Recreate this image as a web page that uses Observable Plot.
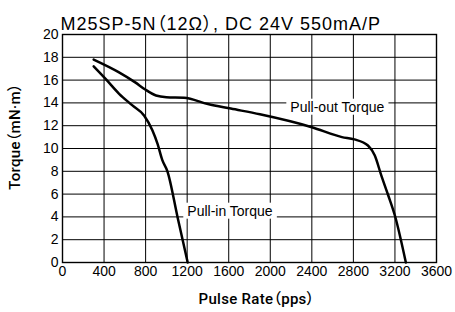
<!DOCTYPE html>
<html>
<head>
<meta charset="utf-8">
<script src="https://cdn.jsdelivr.net/npm/d3@7"></script>
<script src="https://cdn.jsdelivr.net/npm/@observablehq/plot@0.6"></script>
<style>
  html, body { margin: 0; padding: 0; background: #fff; }
  #chart svg { display: block; }
  #chart svg text { font-feature-settings: "palt" 1; }
</style>
</head>
<body>
<div id="chart"></div>
<script>
const title = "M25SP-5N（12Ω）, DC 24V 550mA/P";
const xLabel = "Pulse Rate（pps）";
const yLabel = "Torque（mN·m）";
const xTicks = [0, 400, 800, 1200, 1600, 2000, 2400, 2800, 3200, 3600];
const yTicks = [0, 2, 4, 6, 8, 10, 12, 14, 16, 18, 20];

// Pull-out torque curve
const pullOutX = [300, 540, 700, 800, 900, 1000, 1170, 1400, 1620, 1900, 2400, 2690, 2810, 2940, 3005, 3070, 3135, 3200, 3305];
const pullOutY = [17.8, 16.7, 15.8, 15.15, 14.65, 14.5, 14.45, 13.9, 13.5, 13.0, 11.87, 11.0, 10.8, 10.26, 9.4, 7.6, 5.9, 4.1, 0];

// Pull-in torque curve
const pullInX = [300, 415, 545, 670, 785, 865, 915, 960, 1010, 1107, 1205];
const pullInY = [17.2, 16.1, 14.8, 13.8, 12.9, 11.6, 10.4, 9.0, 8.0, 4.0, 0];

// Curve labels
const labelText = ["Pull-out Torque", "Pull-in Torque"];
const labelX = [2645, 1612];
const labelY = [13.62, 4.5];

const pullOut = pullOutX.map((x, i) => ({x, y: pullOutY[i]}));
const pullIn = pullInX.map((x, i) => ({x, y: pullInY[i]}));
const labels = labelText.map((t, i) => ({text: t, x: labelX[i], y: labelY[i]}));

const font = "'Liberation Sans', Arial, 'Noto Sans CJK JP', sans-serif";
const boldFont = "Roboto, 'Liberation Sans', 'Noto Sans CJK JP', sans-serif";

const svg = Plot.plot({
  width: 455,
  height: 312,
  marginLeft: 62,
  marginRight: 19,
  marginTop: 34,
  marginBottom: 50,
  style: {fontFamily: font, fontSize: "14px", color: "#000", background: "#fff", overflow: "visible"},
  x: {domain: [0, 3600], ticks: xTicks, label: null},
  y: {domain: [0, 20], ticks: yTicks, label: null},
  marks: [
    Plot.gridX(xTicks, {stroke: "#000", strokeOpacity: 1, strokeWidth: 1}),
    Plot.gridY(yTicks, {stroke: "#000", strokeOpacity: 1, strokeWidth: 1}),
    Plot.frame({stroke: "#000", strokeWidth: 1.4}),
    Plot.line(pullOut, {x: "x", y: "y", curve: "monotone-x", stroke: "#000", strokeWidth: 2.5}),
    Plot.line(pullIn, {x: "x", y: "y", curve: "monotone-x", stroke: "#000", strokeWidth: 2.5}),
    Plot.text(labels, {x: "x", y: "y", text: "text", fontSize: 14, fill: "#000"}),
    Plot.axisX(xTicks, {tickSize: 0, tickPadding: 4, fontSize: 14, label: null, tickFormat: d => String(d)}),
    Plot.axisY(yTicks, {tickSize: 0, tickPadding: 4, fontSize: 14, label: null, tickFormat: d => String(d)}),
    Plot.text([title], {frameAnchor: "top-left", textAnchor: "start", lineAnchor: "bottom", dx: -2, dy: -5, fontSize: 18, fill: "#000"}),
    Plot.text([xLabel], {frameAnchor: "bottom", textAnchor: "middle", lineAnchor: "middle", dx: 7, dy: 37, fontSize: 15, fontWeight: 500, fontFamily: boldFont, fill: "#000"}),
    Plot.text([yLabel], {frameAnchor: "left", textAnchor: "middle", rotate: -90, lineAnchor: "middle", dx: -47, dy: -12, fontSize: 15, fontWeight: 500, fontFamily: boldFont, fill: "#000"})
  ]
});

document.getElementById("chart").append(svg);

// letter spacing (reference glyphs are a little wider)
svg.querySelectorAll("text").forEach(t => {
  if (t.textContent === title) t.setAttribute("letter-spacing", "1");
  if (t.textContent === xLabel || t.textContent === yLabel) t.setAttribute("letter-spacing", "0.3");
});

// white boxes behind curve labels (hide gridlines)
svg.querySelectorAll("text").forEach(t => {
  if (!labelText.includes(t.textContent)) return;
  const b = t.getBBox();
  const r = document.createElementNS("http://www.w3.org/2000/svg", "rect");
  r.setAttribute("x", b.x - 4);
  r.setAttribute("y", b.y);
  r.setAttribute("width", b.width + 8);
  r.setAttribute("height", b.height);
  r.setAttribute("fill", "#fff");
  const tr = t.getAttribute("transform");
  if (tr) r.setAttribute("transform", tr);
  t.parentNode.insertBefore(r, t);
});
</script>
</body>
</html>
